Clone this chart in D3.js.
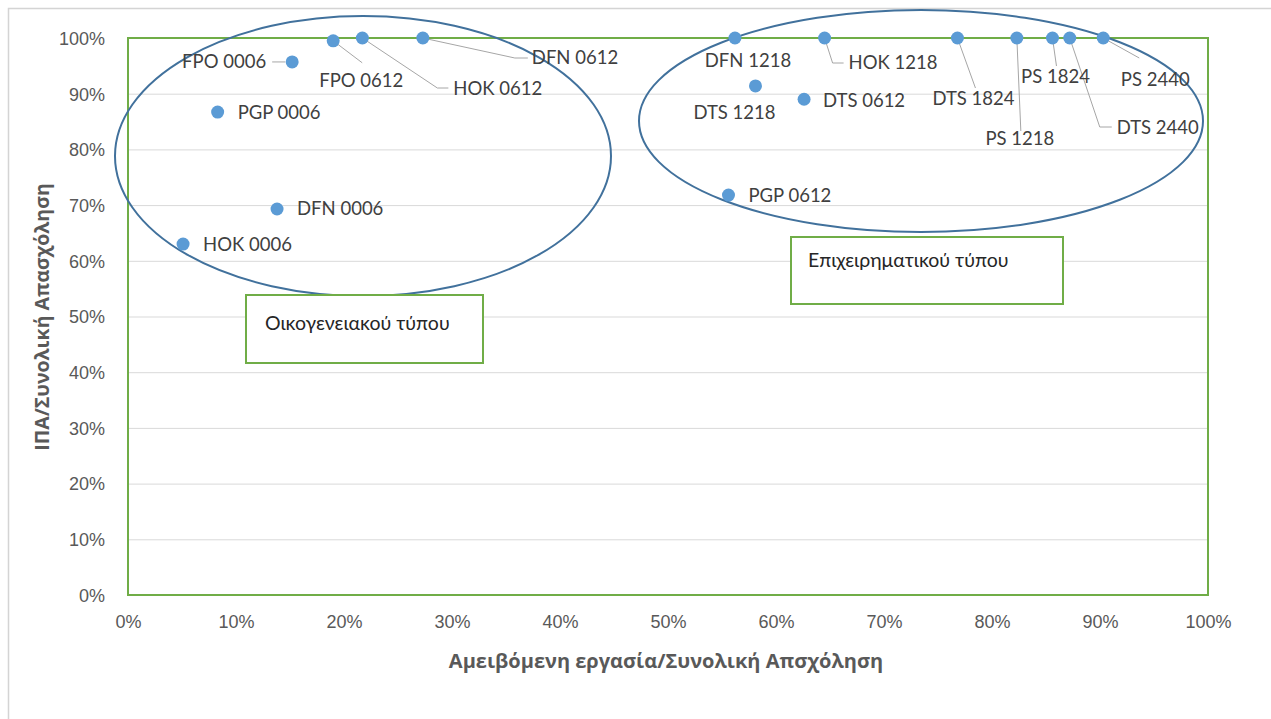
<!DOCTYPE html>
<html>
<head>
<meta charset="utf-8">
<script src="https://cdn.jsdelivr.net/npm/d3@7"></script>
<style>
  body { margin: 0; background: #fff; }
  svg { display: block; font-family: Lato, "Open Sans", sans-serif; }
</style>
</head>
<body>
<script>
// data
var names = ['HOK 0006', 'DFN 0006', 'PGP 0006', 'FPO 0006', 'FPO 0612', 'HOK 0612', 'DFN 0612',
             'DFN 1218', 'HOK 1218', 'DTS 1824', 'DTS 1218', 'DTS 0612', 'PS 1218', 'PS 1824',
             'DTS 2440', 'PS 2440', 'PGP 0612'];
var xValues = [0.051, 0.138, 0.083, 0.152, 0.190, 0.217, 0.273,
               0.562, 0.645, 0.768, 0.581, 0.626, 0.823, 0.856,
               0.872, 0.903, 0.556];
var yValues = [0.630, 0.693, 0.867, 0.957, 0.995, 1.0, 1.0,
               1.0, 1.0, 1.0, 0.914, 0.890, 1.0, 1.0,
               1.0, 1.0, 0.718];
var tickValues = [0, 0.1, 0.2, 0.3, 0.4, 0.5, 0.6, 0.7, 0.8, 0.9, 1];
var xTitle = 'Αμειβόμενη εργασία/Συνολική Απσχόληση';
var yTitle = 'ΙΠΑ/Συνολική Απασχόληση';
var groupNames = ['Οικογενειακού τύπου', 'Επιχειρηματικού τύπου'];

// label placement (pixel offsets from the point): [anchor, dx, dy, leader points]
var labelLayout = {
  'HOK 0006': ['start', 20, 0, null],
  'DFN 0006': ['start', 20, 0, null],
  'PGP 0006': ['start', 20, 0, null],
  'FPO 0006': ['end', -26, 0, [[-7, 0], [-20, 0]]],
  'FPO 0612': ['middle', 28, 40, [[0, 0], [29, 22]]],
  'HOK 0612': ['start', 91, 51, [[0, 0], [75, 50], [86, 50]]],
  'DFN 0612': ['start', 109, 20, [[0, 0], [92, 20], [105, 20]]],
  'DFN 1218': ['middle', 13, 23, null],
  'HOK 1218': ['start', 24, 25, [[0, 0], [8, 25], [19, 25]]],
  'DTS 1824': ['middle', 16, 61, [[0, 0], [18, 50]]],
  'DTS 1218': ['middle', -21, 27, null],
  'DTS 0612': ['start', 19, 1, null],
  'PS 1218': ['middle', 3, 101, [[0, 0], [4, 93]]],
  'PS 1824': ['middle', 3, 39, [[0, 0], [4, 28]]],
  'DTS 2440': ['start', 47, 90, [[0, 0], [30, 89], [42, 89]]],
  'PS 2440': ['middle', 52, 42, [[0, 0], [36, 20]]],
  'PGP 0612': ['start', 20, 0, null]
};

var width = 1271;
var height = 719;
var plot = { left: 128, right: 1208, top: 38, bottom: 595 };

var svg = d3.select('body')
            .append('svg')
            .attr('width', width)
            .attr('height', height);

// outer frame of the original screenshot
svg.append('path')
   .attr('d', 'M8.5,719 V8.5 H1271')
   .attr('fill', 'none')
   .attr('stroke', '#d4d4d4')
   .attr('stroke-width', 1.5);

var xScale = d3.scaleLinear().domain([0, 1]).range([plot.left, plot.right]);
var yScale = d3.scaleLinear().domain([0, 1]).range([plot.bottom, plot.top]);

// gridlines
svg.append('g')
   .attr('transform', `translate(${plot.left},0)`)
   .call(d3.axisLeft(yScale).tickValues(tickValues).tickSize(-(plot.right - plot.left)).tickFormat(''))
   .call(function (g) {
     g.select('.domain').remove();
     g.selectAll('line').attr('stroke', '#d9d9d9').attr('stroke-width', 1);
   });

// plot border
svg.append('rect')
   .attr('x', plot.left)
   .attr('y', plot.top)
   .attr('width', plot.right - plot.left)
   .attr('height', plot.bottom - plot.top)
   .attr('fill', 'none')
   .attr('stroke', '#70ad47')
   .attr('stroke-width', 2);

var fmt = d3.format('.0%');

svg.append('g')
   .attr('transform', `translate(${plot.left - 20},0)`)
   .call(d3.axisLeft(yScale).tickValues(tickValues).tickFormat(fmt).tickSize(0))
   .call(function (g) {
     g.select('.domain').remove();
     g.selectAll('text').attr('fill', '#595959').style('font-size', '18px').attr('dy', '0.35em');
   });

svg.append('g')
   .attr('transform', `translate(0,${plot.bottom + 17})`)
   .call(d3.axisBottom(xScale).tickValues(tickValues).tickFormat(fmt).tickSize(0))
   .call(function (g) {
     g.select('.domain').remove();
     g.selectAll('text').attr('fill', '#595959').style('font-size', '18px').attr('dy', '0.71em');
   });

// axis titles
svg.append('text')
   .attr('x', 666)
   .attr('y', 668)
   .attr('text-anchor', 'middle')
   .attr('fill', '#595959')
   .style('font-family', '"Open Sans", sans-serif')
   .style('font-size', '20px')
   .style('font-weight', 'bold')
   .text(xTitle);

svg.append('text')
   .attr('transform', 'translate(49,317) rotate(-90)')
   .attr('text-anchor', 'middle')
   .attr('fill', '#595959')
   .style('font-family', '"Open Sans", sans-serif')
   .style('font-size', '19.5px')
   .style('font-weight', 'bold')
   .text(yTitle);

// group ellipses
var ellipses = [
  { cx: 363, cy: 156, rx: 248, ry: 140 },
  { cx: 921, cy: 121, rx: 282, ry: 111 }
];
svg.selectAll('ellipse.group')
   .data(ellipses)
   .enter()
   .append('ellipse')
   .attr('class', 'group')
   .attr('cx', function (d) { return d.cx; })
   .attr('cy', function (d) { return d.cy; })
   .attr('rx', function (d) { return d.rx; })
   .attr('ry', function (d) { return d.ry; })
   .attr('fill', 'none')
   .attr('stroke', '#41719c')
   .attr('stroke-width', 2);

// group text boxes
var boxes = [
  { x: 246, y: 295, w: 237, h: 68, tx: 265, ty: 330 },
  { x: 791, y: 237, w: 272, h: 67, tx: 808, ty: 267 }
];
var boxG = svg.selectAll('g.box')
              .data(boxes)
              .enter()
              .append('g')
              .attr('class', 'box');
boxG.append('rect')
    .attr('x', function (d) { return d.x; })
    .attr('y', function (d) { return d.y; })
    .attr('width', function (d) { return d.w; })
    .attr('height', function (d) { return d.h; })
    .attr('fill', '#fff')
    .attr('stroke', '#70ad47')
    .attr('stroke-width', 2);
boxG.append('text')
    .attr('x', function (d) { return d.tx; })
    .attr('y', function (d) { return d.ty; })
    .attr('fill', '#262626')
    .style('font-size', '19.5px')
    .text(function (d, i) { return groupNames[i]; });

var points = names.map(function (n, i) {
  return { name: n, x: xValues[i], y: yValues[i] };
});

// leader lines
svg.selectAll('polyline.leader')
   .data(points.filter(function (d) { return labelLayout[d.name][3]; }))
   .enter()
   .append('polyline')
   .attr('class', 'leader')
   .attr('points', function (d) {
     var px = xScale(d.x), py = yScale(d.y);
     return labelLayout[d.name][3].map(function (p) { return (px + p[0]) + ',' + (py + p[1]); }).join(' ');
   })
   .attr('fill', 'none')
   .attr('stroke', '#a6a6a6')
   .attr('stroke-width', 1);

svg.selectAll('circle.pt')
   .data(points)
   .enter()
   .append('circle')
   .attr('class', 'pt')
   .attr('cx', function (d) { return xScale(d.x); })
   .attr('cy', function (d) { return yScale(d.y); })
   .attr('r', 6.5)
   .attr('fill', '#5b9bd5');

svg.selectAll('text.lbl')
   .data(points)
   .enter()
   .append('text')
   .attr('class', 'lbl')
   .attr('x', function (d) { return xScale(d.x) + labelLayout[d.name][1]; })
   .attr('y', function (d) { return yScale(d.y) + labelLayout[d.name][2]; })
   .attr('dy', '0.35em')
   .attr('text-anchor', function (d) { return labelLayout[d.name][0]; })
   .attr('fill', '#404040')
   .style('font-size', '18.5px')
   .text(function (d) { return d.name; });
</script>
</body>
</html>
